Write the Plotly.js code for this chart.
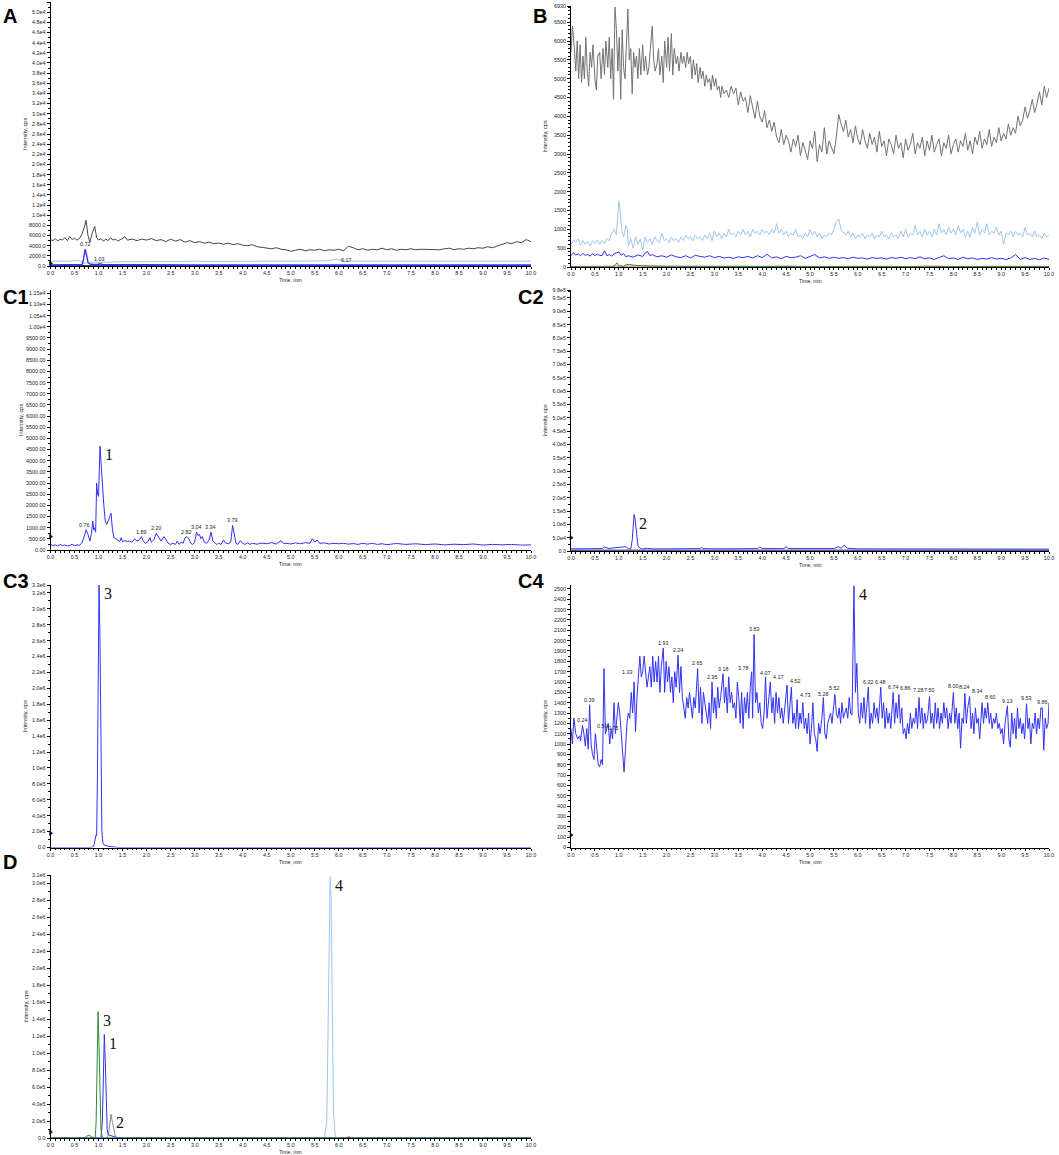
<!DOCTYPE html>
<html><head><meta charset="utf-8">
<script src="https://cdn.plot.ly/plotly-3.0.1.min.js"></script>
<style>html,body{margin:0;padding:0;background:#fff}#chart{width:1059px;height:1155px}</style>
</head><body><div id="chart"></div>
<script>
// ---------------- tick labels ----------------
const xTickVals = [0,0.5,1,1.5,2,2.5,3,3.5,4,4.5,5,5.5,6,6.5,7,7.5,8,8.5,9,9.5,10];
const xTickText = ["0.0","0.5","1.0","1.5","2.0","2.5","3.0","3.5","4.0","4.5","5.0","5.5","6.0","6.5","7.0","7.5","8.0","8.5","9.0","9.5","10.0"];
const aTickVals = [0,2000,4000,6000,8000,10000,12000,14000,16000,18000,20000,22000,24000,26000,28000,30000,32000,34000,36000,38000,40000,42000,44000,46000,48000,50000,52000];
const aTickText = ["0.0","2000.0","4000.0","6000.0","8000.0","1.0e4","1.2e4","1.4e4","1.6e4","1.8e4","2.0e4","2.2e4","2.4e4","2.6e4","2.8e4","3.0e4","3.2e4","3.4e4","3.6e4","3.8e4","4.0e4","4.2e4","4.4e4","4.6e4","4.8e4","5.0e4","5.2e4"];
const bTickVals = [0,500,1000,1500,2000,2500,3000,3500,4000,4500,5000,5500,6000,6500,6930];
const bTickText = ["0","500","1000","1500","2000","2500","3000","3500","4000","4500","5000","5500","6000","6500","6930"];
const c1TickVals = [0,500,1000,1500,2000,2500,3000,3500,4000,4500,5000,5500,6000,6500,7000,7500,8000,8500,9000,9500,10000,10500,11000,11500];
const c1TickText = ["0.00","500.00","1000.00","1500.00","2000.00","2500.00","3000.00","3500.00","4000.00","4500.00","5000.00","5500.00","6000.00","6500.00","7000.00","7500.00","8000.00","8500.00","9000.00","9500.00","1.00e4","1.05e4","1.10e4","1.15e4"];
const c2TickVals = [0,50000,100000,150000,200000,250000,300000,350000,400000,450000,500000,550000,600000,650000,700000,750000,800000,850000,900000,950000,980000];
const c2TickText = ["0.0","5.0e4","1.0e5","1.5e5","2.0e5","2.5e5","3.0e5","3.5e5","4.0e5","4.5e5","5.0e5","5.5e5","6.0e5","6.5e5","7.0e5","7.5e5","8.0e5","8.5e5","9.0e5","9.5e5","9.8e5"];
const c3TickVals = [0,200000,400000,600000,800000,1000000,1200000,1400000,1600000,1800000,2000000,2200000,2400000,2600000,2800000,3000000,3200000,3300000];
const c3TickText = ["0.0","2.0e5","4.0e5","6.0e5","8.0e5","1.0e6","1.2e6","1.4e6","1.6e6","1.8e6","2.0e6","2.2e6","2.4e6","2.6e6","2.8e6","3.0e6","3.2e6","3.3e6"];
const c4TickVals = [0,100,200,300,400,500,600,700,800,900,1000,1100,1200,1300,1400,1500,1600,1700,1800,1900,2000,2100,2200,2300,2400,2500];
const c4TickText = ["0","100","200","300","400","500","600","700","800","900","1000","1100","1200","1300","1400","1500","1600","1700","1800","1900","2000","2100","2200","2300","2400","2500"];
const dTickVals = [0,200000,400000,600000,800000,1000000,1200000,1400000,1600000,1800000,2000000,2200000,2400000,2600000,2800000,3000000,3100000];
const dTickText = ["0.0","2.0e5","4.0e5","6.0e5","8.0e5","1.0e6","1.2e6","1.4e6","1.6e6","1.8e6","2.0e6","2.2e6","2.4e6","2.6e6","2.8e6","3.0e6","3.1e6"];

// ---------------- panel A ----------------
const aGrayT = [0,0.05,0.1,0.15,0.2,0.25,0.3,0.35,0.4,0.45,0.5,0.55,0.6,0.65,0.7,0.74,0.78,0.82,0.87,0.92,0.96,1.0,1.05,1.1,1.15,1.2,1.25,1.3,1.35,1.4,1.45,1.5,1.55,1.6,1.7,1.8,1.9,2.0,2.1,2.2,2.3,2.4,2.5,2.6,2.7,2.8,2.9,3.0,3.1,3.2,3.3,3.4,3.5,3.6,3.7,3.8,3.9,4.0,4.1,4.2,4.3,4.4,4.5,4.6,4.7,4.8,4.9,5.0,5.1,5.2,5.3,5.4,5.5,5.6,5.7,5.8,5.9,6.0,6.1,6.2,6.3,6.4,6.5,6.6,6.7,6.8,6.9,7.0,7.1,7.2,7.3,7.4,7.5,7.6,7.7,7.8,7.9,8.0,8.1,8.2,8.3,8.4,8.5,8.6,8.7,8.8,8.9,9.0,9.1,9.2,9.3,9.4,9.5,9.6,9.7,9.8,9.9,10.0];
const aGrayI = [5200,5000,5400,4900,5300,5100,5600,5000,5800,5200,5500,5100,5400,6200,7500,9000,6000,4700,6500,7800,5600,5100,5400,4900,5300,5000,5600,5100,5300,4900,5200,5400,5800,5100,5300,5000,5300,5100,5400,5000,5200,4800,5300,4900,5200,4700,5000,4600,4800,4500,4700,4400,4500,4300,4500,4200,4400,4100,4000,4200,3800,3700,3500,3400,3600,3300,3200,2900,3100,3300,3000,3200,3100,3300,3000,3200,3100,3300,3000,3900,3600,3200,3400,3100,3300,3200,3500,3200,3400,3100,3300,3200,3400,3200,3300,3300,3200,3300,3200,3400,3500,3200,3400,3300,3500,3400,3600,3500,3800,3600,3900,4300,4600,4400,4800,4600,5200,4800];
const aLightT = [0,0.1,0.2,0.3,0.4,0.5,0.55,0.62,0.66,0.7,0.8,0.9,1.0,1.1,1.2,1.35,1.5,1.7,2.0,2.3,2.5,2.8,3.0,3.3,3.5,3.8,4.0,4.3,4.5,4.8,5.0,5.3,5.5,5.7,5.8,5.9,6.0,6.1,6.3,6.5,6.8,7.0,7.3,7.5,7.8,8.0,8.3,8.5,8.8,9.0,9.3,9.5,9.8,10.0];
const aLightI = [900,950,1000,900,950,1000,1100,900,700,500,700,800,700,750,800,780,850,820,900,860,900,880,950,900,900,930,950,900,900,950,950,920,950,1000,1100,1350,1200,1000,950,950,900,900,930,950,900,950,980,1000,950,950,1000,1000,950,950];
const aBlueT = [0,0.3,0.6,0.66,0.69,0.72,0.75,0.78,0.82,0.9,1.0,1.03,1.08,1.5,2.0,3.0,4.0,5.0,6.0,6.17,6.3,7.0,8.0,9.0,10.0];
const aBlueI = [220,200,230,300,1500,3300,2200,700,400,300,350,450,300,250,230,220,210,200,200,250,200,200,190,200,190];
const aNavyT = [0,2,4,6,8,10];
const aNavyI = [60,50,50,40,40,40];
const aPeakT = [0.72,1.03,6.17];
const aPeakI = [3300,450,250];
const aPeakText = ["0.72","1.03","6.17"];

// ---------------- panel B ----------------
// gray trace as [time, intensity] pairs
const bGray = [[0,5700],[0.03,6400],[0.07,5800],[0.1,5200],[0.13,6000],[0.16,5000],[0.19,5900],[0.22,4900],[0.25,5600],[0.28,5000],[0.31,6100],[0.34,5200],[0.37,4800],[0.4,5700],[0.43,5300],[0.46,5900],[0.5,5000],[0.53,4700],[0.56,5600],[0.6,5700],[0.63,5000],[0.67,5800],[0.7,5100],[0.73,6000],[0.77,5300],[0.8,6100],[0.83,5000],[0.86,5800],[0.89,4450],[0.92,6900],[0.95,6300],[0.98,5200],[1.01,6100],[1.04,4450],[1.07,6300],[1.1,5300],[1.13,5000],[1.16,6000],[1.19,6850],[1.22,5500],[1.25,5800],[1.28,4600],[1.31,5700],[1.34,5300],[1.37,5600],[1.4,5000],[1.43,5800],[1.46,5100],[1.5,5900],[1.53,5200],[1.56,5600],[1.6,5100],[1.63,5300],[1.66,5800],[1.7,6400],[1.73,5500],[1.76,5200],[1.8,5400],[1.83,5800],[1.86,5100],[1.9,5600],[1.93,4900],[1.96,6000],[2.0,5300],[2.03,6100],[2.06,5200],[2.1,6200],[2.13,5100],[2.16,5800],[2.2,5400],[2.23,5600],[2.26,5200],[2.3,5700],[2.33,5400],[2.36,5600],[2.4,5300],[2.43,5700],[2.46,5400],[2.5,5600],[2.53,5000],[2.56,5500],[2.6,5100],[2.63,5400],[2.66,4900],[2.7,5300],[2.73,5000],[2.76,5200],[2.8,4800],[2.83,5100],[2.86,4900],[2.9,5000],[2.93,4700],[2.96,5100],[3.0,4800],[3.03,5000],[3.06,4700],[3.1,4800],[3.13,4500],[3.16,4800],[3.2,4600],[3.25,4700],[3.3,4500],[3.35,4800],
 [3.4,4600],[3.45,4750],[3.5,4300],[3.55,4650],[3.6,4400],[3.65,4500],[3.7,4100],[3.75,4550],[3.8,4250],[3.85,3950],[3.9,4400],[3.95,4000],[4.0,3850],[4.05,4150],[4.1,3700],[4.15,3900],[4.2,3600],[4.25,3850],[4.3,3450],[4.35,3300],[4.4,3650],[4.45,3250],[4.5,3500],[4.55,3350],[4.6,3050],[4.65,3400],[4.7,3200],[4.75,3500],[4.8,2950],[4.85,3300],[4.9,3100],[4.95,2850],[5.0,3350],[5.05,3150],[5.1,3600],[5.15,2800],[5.2,3250],[5.25,3050],[5.3,3700],[5.35,3000],[5.4,3350],[5.45,3200],[5.5,3000],[5.55,3450],[5.6,4050],[5.65,3800],[5.7,3600],[5.75,3900],[5.8,3450],[5.85,3650],[5.9,3300],[5.95,3750],[6.0,3400],[6.05,3250],[6.1,3650],[6.15,3350],[6.2,3150],[6.25,3550],[6.3,3250],[6.35,3450],[6.4,3050],[6.45,3600],[6.5,3200],[6.55,3350],[6.6,2950],[6.65,3400],[6.7,3250],[6.75,3000],[6.8,3500],[6.85,3150],[6.9,3300],[6.95,2900],[7.0,3400],[7.05,3100],[7.1,3250],[7.15,3550],[7.2,3000],[7.25,3300],[7.3,3150],[7.35,3450],[7.4,2950],[7.45,3350],[7.5,3100],[7.55,3500],[7.6,3050],[7.65,3250],[7.7,3400],[7.75,2950],[7.8,3300],[7.85,3150],[7.9,3500],[7.95,3000],[8.0,3250],[8.05,3400],[8.1,3050],[8.15,3350],[8.2,3200],[8.25,3550],[8.3,3100],[8.35,3350],[8.4,3000],[8.45,3450],[8.5,3250],[8.55,3600],[8.6,3150],[8.65,3400],[8.7,3250],[8.75,3650],[8.8,3200],[8.85,3450],[8.9,3300],[8.95,3700],[9.0,3350],[9.05,3550],[9.1,3400],[9.15,3800],[9.2,3500],[9.25,3700],[9.3,3550],[9.35,4000],[9.4,3750],[9.45,3900],[9.5,4250],[9.55,3950],[9.6,4150],[9.65,4450],[9.7,4100],[9.75,4350],[9.8,4650],[9.85,4300],[9.9,4800],[9.95,4500],[10.0,4750]];
const bLightT = [0,0.05,0.1,0.15,0.2,0.25,0.3,0.35,0.4,0.45,0.5,0.55,0.6,0.65,0.7,0.75,0.8,0.85,0.9,0.95,1.0,1.03,1.06,1.1,1.15,1.18,1.2,1.25,1.3,1.35,1.4,1.45,1.5,1.55,1.6,1.65,1.7,1.75,1.8,1.85,1.9,1.95,2.0,2.05,2.1,2.15,2.2,2.25,2.3,2.35,2.4,2.45,2.5,2.55,2.6,2.65,2.7,2.75,2.8,2.85,2.9,2.95,3.0,3.05,3.1,3.15,3.2,3.25,3.3,3.35,3.4,3.45,3.5,3.55,3.6,3.65,3.7,3.75,3.8,3.85,3.9,3.95,4.0,4.05,4.1,4.15,4.2,4.25,4.3,4.35,4.4,4.45,4.5,4.55,4.6,4.65,4.7,4.75,4.8,4.85,4.9,4.95,5.0,5.05,5.1,5.15,5.2,5.25,5.3,5.35,5.4,5.45,5.5,5.55,5.6,5.65,5.7,5.75,5.8,5.85,5.9,5.95,6.0,6.05,6.1,6.15,6.2,6.25,6.3,6.35,6.4,6.45,6.5,6.55,6.6,6.65,6.7,6.75,6.8,6.85,6.9,6.95,7.0,7.05,7.1,7.15,7.2,7.25,7.3,7.35,7.4,7.45,7.5,7.55,7.6,7.65,7.7,7.75,7.8,7.85,7.9,7.95,8.0,8.05,8.1,8.15,8.2,8.25,8.3,8.35,8.4,8.45,8.5,8.55,8.6,8.65,8.7,8.75,8.8,8.85,8.9,8.95,9.0,9.05,9.1,9.15,9.2,9.25,9.3,9.35,9.4,9.45,9.5,9.55,9.6,9.65,9.7,9.75,9.8,9.85,9.9,9.95,10.0];
const bLightI = [600,720,650,750,580,700,600,680,560,700,620,720,600,700,620,760,700,900,1000,850,1750,1500,1000,800,1100,1000,550,750,500,800,600,750,450,800,650,750,600,800,700,650,900,700,750,650,800,700,750,650,800,700,850,750,800,700,850,750,800,700,850,750,900,700,950,800,900,750,900,800,1000,850,900,800,950,850,1000,850,950,800,1000,900,950,850,1000,900,950,850,1000,900,1150,900,1000,850,950,800,900,850,1000,800,850,750,900,800,1000,850,950,800,900,750,850,800,900,850,1000,1200,1280,1000,900,850,950,800,900,750,850,800,900,750,850,800,900,750,850,800,950,800,850,750,900,800,850,750,950,800,1000,800,900,850,1100,850,950,800,1000,850,950,800,1000,850,1150,900,1000,850,1050,900,1000,850,1100,900,1000,800,950,800,1050,900,1200,850,1000,900,1150,850,950,900,1050,850,950,600,900,850,950,800,950,850,900,800,1050,850,900,800,950,800,850,750,900,800,850];
const bBlueT = [0,0.05,0.1,0.15,0.2,0.25,0.3,0.35,0.4,0.45,0.5,0.55,0.6,0.65,0.7,0.75,0.8,0.85,0.9,0.95,1.0,1.05,1.1,1.15,1.2,1.3,1.4,1.5,1.55,1.6,1.65,1.7,1.8,1.9,2.0,2.1,2.2,2.3,2.4,2.5,2.6,2.7,2.8,2.9,3.0,3.1,3.2,3.3,3.4,3.5,3.6,3.7,3.8,3.9,4.0,4.1,4.2,4.3,4.4,4.5,4.6,4.7,4.8,4.9,5.0,5.1,5.2,5.3,5.4,5.5,5.6,5.7,5.8,5.9,6.0,6.1,6.2,6.3,6.4,6.5,6.6,6.7,6.8,6.9,7.0,7.1,7.2,7.3,7.4,7.5,7.6,7.7,7.8,7.9,8.0,8.1,8.2,8.3,8.4,8.5,8.6,8.7,8.8,8.9,9.0,9.1,9.2,9.3,9.4,9.5,9.6,9.7,9.8,9.9,10.0];
const bBlueI = [300,380,320,350,300,360,310,330,290,350,300,340,310,300,430,300,330,290,350,380,400,310,360,270,300,260,320,280,370,410,300,330,270,300,260,320,270,250,300,240,310,280,260,300,250,280,240,260,230,270,250,280,240,300,250,340,240,270,220,280,250,260,300,230,290,330,240,270,230,260,230,250,220,260,230,240,210,250,230,240,210,250,230,260,220,250,220,270,220,240,200,250,300,220,240,200,260,220,240,200,230,210,250,210,230,200,240,330,200,250,200,230,190,240,200];
const bGreenT = [0,0.85,0.92,0.96,1.0,1.1,1.15,1.2,1.3,1.5,2.0,3.0,5.0,7.0,10.0];
const bGreenI = [5,5,40,110,40,10,60,70,50,30,20,10,10,8,8];
const bRedT = [0,0.5,1.0,1.5,2.0,2.5,3.0,3.5,4.0,4.5,5.0,5.5,6.0,6.5,7.0,7.5,8.0,8.5,9.0,9.5,10.0];
const bRedI = [15,20,10,25,15,20,10,20,15,25,10,20,15,20,10,25,15,20,10,20,15];

// ---------------- panel C1 ----------------
const c1T = [0,0.05,0.1,0.15,0.2,0.25,0.3,0.35,0.4,0.45,0.5,0.55,0.6,0.65,0.7,0.74,0.78,0.82,0.85,0.88,0.9,0.92,0.94,0.96,0.98,1.0,1.03,1.06,1.08,1.11,1.14,1.17,1.2,1.23,1.26,1.29,1.32,1.36,1.4,1.44,1.47,1.5,1.55,1.6,1.65,1.7,1.75,1.8,1.85,1.89,1.93,1.97,2.02,2.07,2.1,2.15,2.2,2.25,2.3,2.36,2.4,2.45,2.5,2.55,2.6,2.64,2.68,2.72,2.76,2.8,2.84,2.88,2.92,2.96,3.0,3.04,3.07,3.1,3.13,3.16,3.2,3.25,3.3,3.34,3.38,3.42,3.46,3.5,3.55,3.6,3.65,3.7,3.75,3.79,3.82,3.86,3.9,3.95,4.0,4.05,4.1,4.15,4.2,4.3,4.4,4.5,4.6,4.7,4.8,4.85,4.9,5.0,5.1,5.2,5.3,5.4,5.45,5.5,5.55,5.6,5.7,5.8,5.9,6.0,6.1,6.2,6.3,6.4,6.5,6.6,6.7,6.8,6.9,7.0,7.2,7.4,7.6,7.8,8.0,8.2,8.4,8.6,8.8,9.0,9.2,9.4,9.6,9.8,10.0];
const c1I = [250,200,230,180,250,200,220,180,200,260,190,230,210,300,600,900,700,400,700,1300,900,1000,800,3000,2500,2400,4650,3500,2700,2000,1300,1150,1300,1500,1650,900,550,500,450,380,550,380,420,380,400,350,500,400,450,600,400,300,350,550,350,450,750,550,400,600,450,300,250,300,250,400,250,350,300,550,600,500,300,250,350,800,650,700,500,600,350,300,450,800,400,300,250,300,250,450,300,280,350,1100,700,300,250,420,300,250,320,250,300,260,310,280,330,270,420,290,300,270,320,280,330,300,500,350,450,300,320,270,300,280,300,260,290,250,300,260,300,250,280,240,290,250,280,240,270,230,260,240,270,220,250,230,250,220,230];
const c1PeakT = [0.76,1.89,2.20,2.82,3.04,3.34,3.79];
const c1PeakI = [900,600,750,600,800,800,1100];
const c1PeakText = ["0.76","1.89","2.20","2.82","3.04","3.34","3.79"];

// ---------------- panel C2 ----------------
const c2T = [0,0.5,0.65,0.7,0.75,0.8,0.9,1.0,1.1,1.15,1.2,1.25,1.28,1.3,1.32,1.34,1.37,1.4,1.45,1.5,1.6,1.7,2.0,2.5,2.7,2.73,2.76,3.0,3.5,3.9,3.95,4.0,4.45,4.5,4.55,5.0,5.4,5.5,5.6,5.65,5.72,5.78,6.0,7.0,8.0,9.0,10.0];
const c2I = [8000,8000,9000,15000,12000,9000,12000,13000,14000,16000,9000,8000,40000,110000,137000,120000,60000,20000,10000,8000,10000,8000,8000,8000,9000,14000,9000,8000,8000,9000,15000,9000,9000,16000,9000,8000,8000,9000,16000,10000,22000,10000,8000,8000,8000,7000,7000];
const c2NavyT = [0,2,4,6,8,10];
const c2NavyI = [3000,3000,3000,3000,3000,3000];

// ---------------- panel C3 ----------------
const c3T = [0,0.85,0.9,0.93,0.95,0.96,0.975,0.99,1.01,1.03,1.05,1.07,1.09,1.12,1.2,1.3,1.4,10];
const c3I = [0,0,20000,100000,160000,150000,800000,2500000,3300000,2600000,900000,200000,60000,30000,15000,5000,0,0];

// ---------------- panel C4 ----------------
const c4T = [0.00,0.03,0.06,0.10,0.14,0.18,0.20,0.24,0.27,0.30,0.33,0.36,0.39,0.42,0.45,0.48,0.51,0.54,0.57,0.60,0.63,0.66,0.69,0.72,0.75,0.78,0.81,0.84,0.87,0.90,0.93,0.96,0.99,1.02,1.05,1.08,1.11,1.14,1.17,1.20,1.23,1.26,1.29,1.32,1.35,1.38,1.41,1.44,1.47,1.50,1.53,1.56,1.59,1.62,1.65,1.68,1.71,1.74,1.77,1.80,1.83,1.86,1.89,1.93,1.96,1.99,2.02,2.05,2.08,2.11,2.14,2.17,2.20,2.24,2.27,2.30,2.33,2.36,2.39,2.42,2.45,2.48,2.51,2.54,2.57,2.60,2.65,2.68,2.71,2.74,2.77,2.80,2.83,2.86,2.89,2.92,2.95,2.98,3.01,3.04,3.07,3.10,3.13,3.18,3.21,3.24,3.27,3.30,3.33,3.36,3.39,3.42,3.45,3.48,3.51,3.54,3.57,3.60,3.63,3.66,3.69,3.72,3.75,3.78,3.80,3.83,3.86,3.89,3.92,3.95,3.98,4.01,4.04,4.07,4.10,4.13,4.17,4.20,4.23,4.26,4.29,4.32,4.35,4.38,4.41,4.44,4.47,4.52,4.55,4.58,4.61,4.64,4.67,4.70,4.73,4.76,4.79,4.82,4.85,4.88,4.91,4.94,4.97,5.00,5.03,5.06,5.09,5.12,5.15,5.18,5.21,5.25,5.28,5.31,5.34,5.37,5.40,5.43,5.46,5.49,5.52,5.55,5.58,5.61,5.64,5.67,5.70,5.73,5.76,5.79,5.82,5.85,5.88,5.92,5.95,5.98,6.01,6.04,6.07,6.10,6.13,6.16,6.19,6.22,6.25,6.28,6.31,6.34,6.37,6.40,6.43,6.48,6.51,6.54,6.57,6.60,6.63,6.66,6.69,6.74,6.77,6.80,6.83,6.86,6.89,6.92,6.95,6.98,7.01,7.04,7.07,7.10,7.13,7.16,7.19,7.22,7.25,7.28,7.31,7.34,7.37,7.40,7.43,7.46,7.50,7.53,7.56,7.59,7.62,7.65,7.68,7.71,7.74,7.77,7.80,7.83,7.86,7.89,7.92,7.95,8.00,8.03,8.06,8.09,8.12,8.15,8.18,8.21,8.24,8.27,8.30,8.34,8.37,8.40,8.43,8.46,8.49,8.52,8.55,8.60,8.63,8.66,8.69,8.72,8.75,8.78,8.81,8.84,8.87,8.90,8.93,8.96,8.99,9.02,9.05,9.08,9.13,9.16,9.19,9.22,9.25,9.28,9.31,9.34,9.37,9.40,9.43,9.46,9.49,9.53,9.56,9.59,9.62,9.65,9.68,9.71,9.74,9.77,9.80,9.83,9.86,9.89,9.92,9.95,9.98,10.00];
const c4I = [1150,1000,1250,1100,1050,1080,1030,1180,1100,980,1150,950,1380,1000,900,850,1100,950,800,780,850,800,1730,1100,1150,1200,1000,1150,1050,1400,1100,1300,1400,1300,1100,900,730,950,1200,1300,1250,1500,1300,1600,1120,1450,1650,1850,1650,1700,1850,1700,1550,1650,1750,1550,1850,1600,1800,1600,1850,1500,1750,1930,1500,1800,1600,1750,1500,1650,1400,1700,1550,1860,1500,1750,1450,1350,1250,1450,1350,1500,1400,1250,1450,1350,1730,1300,1550,1200,1500,1400,1250,1200,1400,1150,1600,1300,1450,1250,1550,1350,1450,1680,1400,1550,1300,1650,1400,1500,1350,1400,1250,1600,1450,1200,1500,1150,1450,1300,1500,1250,1550,1700,1250,2060,1400,1500,1300,1400,1200,1150,1300,1650,1250,1400,1600,1300,1450,1200,1500,1300,1450,1250,1350,1200,1350,1570,1200,1400,1550,1200,1300,1150,1430,1150,1300,1200,1400,1150,1250,1100,1300,1000,1150,1400,1100,1050,930,1200,1100,1250,1450,1100,1050,1200,1250,1300,1200,1350,1480,1300,1250,1350,1200,1400,1250,1300,1350,1250,1450,1300,1280,2530,1500,1780,1300,1200,1400,1250,1450,1200,1350,1550,1150,1300,1200,1400,1250,1350,1200,1550,1250,1400,1150,1350,1200,1300,1150,1500,1200,1400,1250,1480,1200,1350,1100,1150,1050,1200,1100,1300,1150,1250,1200,1350,1150,1450,1200,1350,1150,1300,1200,1250,1460,1200,1300,1150,1400,1200,1350,1150,1300,1200,1400,1250,1350,1150,1300,1200,1500,1200,1350,1150,1300,960,1250,1200,1490,1200,1350,1460,1150,1300,1100,1350,1200,1250,1050,1400,1200,1350,1250,1400,1200,1300,1150,1250,1200,1300,1150,1200,1100,1150,1000,1200,1370,1050,970,1300,1100,1250,1050,1350,1150,1250,1100,1200,1050,1390,1150,1250,1000,1200,1150,1300,1100,1250,1150,1350,1350,940,1250,1150,1200,1400];
const c4PeakT = [0.24,0.39,0.59,0.75,1.33,1.93,2.24,2.65,2.95,3.18,3.78,3.83,4.07,4.17,4.52,4.73,5.28,5.52,6.22,6.48,6.74,6.86,7.28,7.50,8.00,8.24,8.34,8.60,9.13,9.53,9.86];
const c4PeakI = [1180,1380,1130,1110,1650,1930,1860,1735,1600,1680,1690,2060,1640,1600,1560,1430,1440,1490,1555,1555,1505,1490,1470,1470,1515,1505,1460,1405,1370,1395,1360];
const c4PeakText = ["0.24","0.39","0.59","0.75","1.33","1.93","2.24","2.65","2.95","3.18","3.78","3.83","4.07","4.17","4.52","4.73","5.28","5.52","6.22","6.48","6.74","6.86","7.28","7.50","8.00","8.24","8.34","8.60","9.13","9.53","9.86"];

// ---------------- panel D ----------------
const dGreenT = [0,0.7,0.75,0.8,0.85,0.9,0.93,0.95,0.97,0.99,1.01,1.03,1.05,1.08,10];
const dGreenI = [0,0,20000,35000,15000,0,0,200000,800000,1490000,1100000,500000,100000,0,0];
const dBlueT = [0,1.05,1.08,1.1,1.12,1.14,1.16,1.18,1.2,1.25,1.3,1.4,10];
const dBlueI = [0,0,200000,800000,1220000,900000,350000,100000,40000,30000,15000,0,0];
const dGrayT = [0,1.18,1.21,1.24,1.26,1.29,1.32,1.35,1.4,10];
const dGrayI = [0,0,50000,200000,280000,180000,80000,20000,0,0];
const dLightT = [0,5.7,5.75,5.78,5.8,5.82,5.84,5.86,5.89,5.93,10];
const dLightI = [0,0,200000,1500000,2800000,3080000,2800000,1500000,300000,0,0];
const dRedT = [6.15,6.18,6.2,6.23,6.26];
const dRedI = [0,5000,20000,5000,0];

// compound number labels (peak apex positions)
const cmpC1 = {t:1.03, i:4650, n:"1"};
const cmpC2 = {t:1.32, i:137000, n:"2"};
const cmpC3 = {t:1.01, i:3300000, n:"3"};
const cmpC4 = {t:5.92, i:2530, n:"4"};
const dCmpT = [0.99,1.12,1.26,5.82];
const dCmpI = [1490000,1220000,280000,3080000];
const dCmpN = ["3","1","2","4"];

// baseline markers at start of each trace
const startMarkI = {A:500, C1:600, C2:50000, C3:180000, C4:120, D:70000};

// ---------------- layout ----------------
const W = 1059, H = 1155;
const GRAY_A = '#454545', GRAY_B = '#727272', LIGHT = '#9ec6ef', BLUE = '#3232f5', GREEN = '#2f8a3a', RED = '#e03a3a', NAVY = '#101060';
const FONT = 'Arial, Liberation Sans, sans-serif';
const tickFont = {family:FONT, size:5.4, color:'#222'};
const panels = [
  {k:'',  xpx:[50.5,531], ypx:[2,266],   yr:[0,52000],   tv:aTickVals,  tt:aTickText,  minor:1000,   ytx:25},
  {k:'2', xpx:[571,1049], ypx:[6,267],   yr:[0,6930],    tv:bTickVals,  tt:bTickText,  minor:100,    ytx:545},
  {k:'3', xpx:[50.5,531], ypx:[290,550], yr:[0,11650],   tv:c1TickVals, tt:c1TickText, minor:250,    ytx:21},
  {k:'4', xpx:[571,1049], ypx:[290,551], yr:[0,980000],  tv:c2TickVals, tt:c2TickText, minor:25000,  ytx:545},
  {k:'5', xpx:[50.5,531], ypx:[585,847.5], yr:[0,3300000], tv:c3TickVals, tt:c3TickText, minor:100000, ytx:25},
  {k:'6', xpx:[571,1049], ypx:[585,847.5], yr:[0,2538],   tv:c4TickVals, tt:c4TickText, minor:50,    ytx:545},
  {k:'7', xpx:[50.5,531], ypx:[875,1138], yr:[0,3100000], tv:dTickVals,  tt:dTickText,  minor:100000, ytx:25}
];
const layout = {width:W, height:H, margin:{l:0,r:0,t:0,b:0}, paper_bgcolor:'#fff', plot_bgcolor:'#fff', showlegend:false, annotations:[]};
panels.forEach(p=>{
  layout['xaxis'+p.k] = {domain:[p.xpx[0]/W, p.xpx[1]/W], range:[0,10], anchor:'y'+p.k,
    tickvals:xTickVals, ticktext:xTickText, ticks:'outside', ticklen:2, tickcolor:'#000', tickwidth:1,
    showline:true, linecolor:'#000', linewidth:1, showgrid:false, zeroline:false, tickfont:tickFont,
    minor:{dtick:0.1, ticks:'outside', ticklen:1.5, tickcolor:'#000', showgrid:false}, fixedrange:true};
  layout['yaxis'+p.k] = {domain:[1-p.ypx[1]/H, 1-p.ypx[0]/H], range:p.yr, anchor:'x'+p.k,
    tickvals:p.tv, ticktext:p.tt, ticks:'outside', ticklen:3, tickcolor:'#000', tickwidth:1,
    showline:true, linecolor:'#000', linewidth:1, showgrid:false, zeroline:false, tickfont:tickFont,
    minor:{dtick:p.minor, ticks:'outside', ticklen:2, tickcolor:'#000', showgrid:false}, fixedrange:true};
  const xc = (p.xpx[0]+p.xpx[1])/2/W;
  const ty = Math.min(p.ypx[1]+14, H-3);
  layout.annotations.push({xref:'paper', yref:'paper', x:xc, y:1-ty/H, text:'Time, min', showarrow:false,
    font:{family:FONT, size:5.2, color:'#222'}, xanchor:'center', yanchor:'middle'});
  layout.annotations.push({xref:'paper', yref:'paper', x:p.ytx/W, y:1-((p.ypx[0]+p.ypx[1])/2)/H, text:'Intensity, cps', textangle:-90,
    showarrow:false, font:{family:FONT, size:5.6, color:'#222'}, xanchor:'center', yanchor:'middle'});
});

// panel letters
const letterFont = {family:FONT, size:20, color:'#000', weight:'bold'};
[['A',10,16],['B',540,16],['C1',16,297],['C2',531,297],['C3',16,581],['C4',531,581],['D',10,862]].forEach(l=>{
  layout.annotations.push({xref:'paper', yref:'paper', x:l[1]/W, y:1-l[2]/H, text:'<b>'+l[0]+'</b>', showarrow:false,
    font:letterFont, xanchor:'center', yanchor:'middle'});
});

const smallLbl = {family:FONT, size:5.4, color:'#222'};
// horizontal nudges (px) for labels that the reference draws beside their peak
const c4LabelNudge = {"0.59":3, "0.75":7, "1.33":-7, "3.78":-8, "4.17":8, "4.52":8, "4.73":8, "6.86":7, "8.34":8, "8.60":8};
const c1LabelNudge = {"0.76":-3};
function rtLabels(ts, is, txt, ax, ay, nudge){
  ts.forEach((t,j)=>layout.annotations.push({xref:ax, yref:ay, x:t, y:is[j], text:txt[j], showarrow:false,
    font:smallLbl, xanchor:'center', yanchor:'bottom', yshift:0, xshift:(nudge && nudge[txt[j]]) || 0}));
}
rtLabels(aPeakT, aPeakI, aPeakText, 'x', 'y');
rtLabels(c1PeakT, c1PeakI, c1PeakText, 'x3', 'y3', c1LabelNudge);
rtLabels(c4PeakT, c4PeakI, c4PeakText, 'x6', 'y6', c4LabelNudge);

const serif = {family:'Liberation Serif, Times New Roman, serif', size:16, color:'#111'};
function cmpLabel(t,i,n,ax,ay){
  layout.annotations.push({xref:ax, yref:ay, x:t, y:i, text:n, showarrow:false, font:serif, xanchor:'left', yanchor:'top', xshift:3, yshift:2});
}
cmpLabel(cmpC1.t, cmpC1.i, cmpC1.n, 'x3', 'y3');
cmpLabel(cmpC2.t, cmpC2.i, cmpC2.n, 'x4', 'y4');
cmpLabel(cmpC3.t, cmpC3.i, cmpC3.n, 'x5', 'y5');
cmpLabel(cmpC4.t, cmpC4.i, cmpC4.n, 'x6', 'y6');
dCmpT.forEach((t,j)=>cmpLabel(t, dCmpI[j], dCmpN[j], 'x7', 'y7'));

// ---------------- traces ----------------
function line(x,y,c,ax,ay,w){return {type:'scatter', mode:'lines', x:x, y:y, xaxis:ax, yaxis:ay, line:{color:c, width:w||1}, hoverinfo:'skip'};}
function mark(v,ax,ay){return {type:'scatter', mode:'markers', x:[0], y:[v], xaxis:ax, yaxis:ay, marker:{symbol:'triangle-right', size:5, color:NAVY}, hoverinfo:'skip', cliponaxis:false};}
const data = [
  line(aGrayT, aGrayI, GRAY_A, 'x', 'y'),
  line(aLightT, aLightI, LIGHT, 'x', 'y'),
  line(aNavyT, aNavyI, NAVY, 'x', 'y'),
  line(aBlueT, aBlueI, BLUE, 'x', 'y', 1.4),
  mark(startMarkI.A, 'x', 'y'),
  line(bGray.map(p=>p[0]), bGray.map(p=>p[1]), GRAY_B, 'x2', 'y2'),
  line(bLightT, bLightI, LIGHT, 'x2', 'y2'),
  line(bBlueT, bBlueI, BLUE, 'x2', 'y2'),
  line(bRedT, bRedI, RED, 'x2', 'y2', 0.8),
  line(bGreenT, bGreenI, GREEN, 'x2', 'y2'),
  line(c1T, c1I, BLUE, 'x3', 'y3'),
  mark(startMarkI.C1, 'x3', 'y3'),
  line(c2NavyT, c2NavyI, NAVY, 'x4', 'y4'),
  line(c2T, c2I, BLUE, 'x4', 'y4'),
  mark(startMarkI.C2, 'x4', 'y4'),
  line(c3T, c3I, BLUE, 'x5', 'y5'),
  mark(startMarkI.C3, 'x5', 'y5'),
  line(c4T, c4I, BLUE, 'x6', 'y6'),
  mark(startMarkI.C4, 'x6', 'y6'),
  line(dGrayT, dGrayI, '#8a8a8a', 'x7', 'y7'),
  line(dLightT, dLightI, LIGHT, 'x7', 'y7'),
  line(dRedT, dRedI, RED, 'x7', 'y7'),
  line(dBlueT, dBlueI, BLUE, 'x7', 'y7'),
  line(dGreenT, dGreenI, GREEN, 'x7', 'y7'),
  mark(startMarkI.D, 'x7', 'y7')
];
Plotly.newPlot('chart', data, layout, {staticPlot:true, displayModeBar:false});
</script></body></html>
